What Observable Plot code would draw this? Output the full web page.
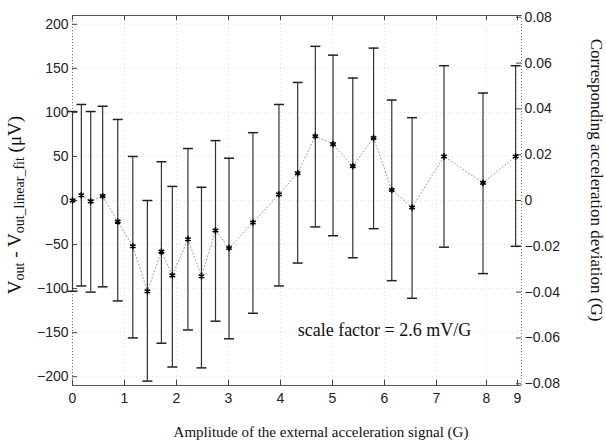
<!DOCTYPE html>
<html><head><meta charset="utf-8">
<script src="https://cdn.jsdelivr.net/npm/d3@7"></script>
<script src="https://cdn.jsdelivr.net/npm/@observablehq/plot@0.6"></script>
<style>body{margin:0;background:#fff} svg{display:block}</style>
</head><body><div id="chart"></div>
<script>
// Amplitude of the external acceleration signal (G)
const amplitude = [0, 0.17, 0.35, 0.58, 0.87, 1.16, 1.44, 1.71, 1.92, 2.22, 2.48, 2.75, 3.01, 3.47, 3.97, 4.33, 4.67, 5.01, 5.39, 5.79, 6.14, 6.53, 7.15, 7.93, 8.94];
// Vout - Vout_linear_fit (μV)
const deviation = [0, 6, -1, 5, -24, -52, -103, -58, -85, -44, -86, -34, -54, -25, 7, 31, 73, 64, 39, 71, 12, -8, 50, 20, 50];
const upper = [101, 109, 101, 107, 92, 50, 0, 44, 16, 59, 15, 68, 48, 77, 109, 134, 175, 165, 139, 173, 114, 94, 153, 122, 153];
const lower = [-103, -97, -104, -98, -114, -156, -205, -162, -189, -147, -190, -137, -157, -128, -97, -71, -30, -40, -65, -32, -91, -111, -53, -83, -52];

const xTicks = [0, 1, 2, 3, 4, 5, 6, 7, 8, 9];
const yTicks = [-200, -150, -100, -50, 0, 50, 100, 150, 200];
const accelTicks = [-0.08, -0.06, -0.04, -0.02, 0, 0.02, 0.04, 0.06, 0.08];
const scaleFactor = 2600; // μV per G (2.6 mV/G)

const xTitle = "Amplitude of the external acceleration signal (G)";
const rightTitle = "Corresponding acceleration deviation (G)";
const note = "scale factor = 2.6 mV/G";

const rows = amplitude.map((a, i) => ({a, v: deviation[i], hi: upper[i], lo: lower[i]}));
const accelInMicroV = accelTicks.map(g => g * scaleFactor);

const cap = {draw(ctx, size) { const r = Math.sqrt(size / Math.PI); ctx.moveTo(-r, 0); ctx.lineTo(r, 0); }};
const serif = "'Liberation Serif', 'Times New Roman', serif";
const grid = {stroke: "#999", strokeDasharray: "1,3", strokeOpacity: 0.3};

const plot = Plot.plot({
  width: 606, height: 443,
  marginLeft: 72, marginRight: 85, marginTop: 15, marginBottom: 58,
  x: {type: "linear", domain: [0, 7, 8, 9.13], range: [72, 436, 486, 521]},
  y: {type: "linear", domain: [-210, 210]},
  style: {fontFamily: "'Liberation Sans', Arial, sans-serif", fontSize: "14px", color: "#222", background: "white"},
  marks: [
    Plot.ruleX(xTicks, grid),
    Plot.ruleY(yTicks, grid),
    Plot.ruleY([210, -210], {stroke: "#555", strokeWidth: 1}),
    Plot.ruleX([0, 9.13], {stroke: "#777", strokeDasharray: "1,2", strokeWidth: 1}),
    Plot.ruleY(yTicks, {x1: 0, x2: 0.1, stroke: "#444"}),
    Plot.ruleY(accelInMicroV, {x1: 9.13, x2: 8.97, stroke: "#444"}),
    Plot.ruleX(xTicks, {y1: -210, y2: -204, stroke: "#444"}),
    Plot.ruleX(xTicks, {y1: 210, y2: 204, stroke: "#444"}),
    Plot.line(rows, {x: "a", y: "v", stroke: "#999", strokeDasharray: "1,2.5", strokeWidth: 1}),
    Plot.ruleX(rows, {x: "a", y1: "lo", y2: "hi", stroke: "#333", strokeWidth: 1.2}),
    Plot.dot(rows, {x: "a", y: "hi", symbol: cap, r: 5, stroke: "#222", strokeWidth: 1.5}),
    Plot.dot(rows, {x: "a", y: "lo", symbol: cap, r: 5, stroke: "#222", strokeWidth: 1.5}),
    Plot.dot(rows, {x: "a", y: "v", symbol: "asterisk", r: 3, stroke: "#000", strokeWidth: 1.6}),
    Plot.axisY(yTicks, {anchor: "left", tickSize: 0, tickPadding: 4, label: null}),
    Plot.axisY(accelInMicroV, {anchor: "right", tickSize: 0, tickPadding: 3, label: null,
      tickFormat: d => Math.abs(d) < 1e-9 ? "0" : (d / scaleFactor).toFixed(2).replace("-", "\u2212")}),
    Plot.axisX(xTicks, {anchor: "bottom", tickSize: 0, tickPadding: 8, label: null}),
    Plot.text([note], {x: 4.33, y: -147, text: d => d, textAnchor: "start", lineAnchor: "middle", fontFamily: serif, fontSize: 18, fill: "#111"})
  ]
});
document.getElementById("chart").appendChild(plot);

const svg = d3.select(plot);
svg.append("text").attr("x", 321).attr("y", 437).attr("text-anchor", "middle")
  .style("font-family", serif).style("font-size", "15px").attr("fill", "#111").text(xTitle);

svg.append("text").attr("transform", "translate(591,180) rotate(90)").attr("text-anchor", "middle")
  .style("font-family", serif).style("font-size", "17px").attr("fill", "#111").text(rightTitle);

const lt = svg.append("text").attr("transform", "translate(21,205) rotate(-90)").attr("text-anchor", "middle")
  .style("font-family", serif).style("font-size", "19px").attr("fill", "#111");
lt.append("tspan").text("V");
lt.append("tspan").attr("dy", 3).style("font-size", "14px").text("out");
lt.append("tspan").attr("dy", -3).text(" - V");
lt.append("tspan").attr("dy", 3).style("font-size", "14px").text("out_linear_fit");
lt.append("tspan").attr("dy", -3).text(" (\u03bcV)");
</script>
</body></html>
